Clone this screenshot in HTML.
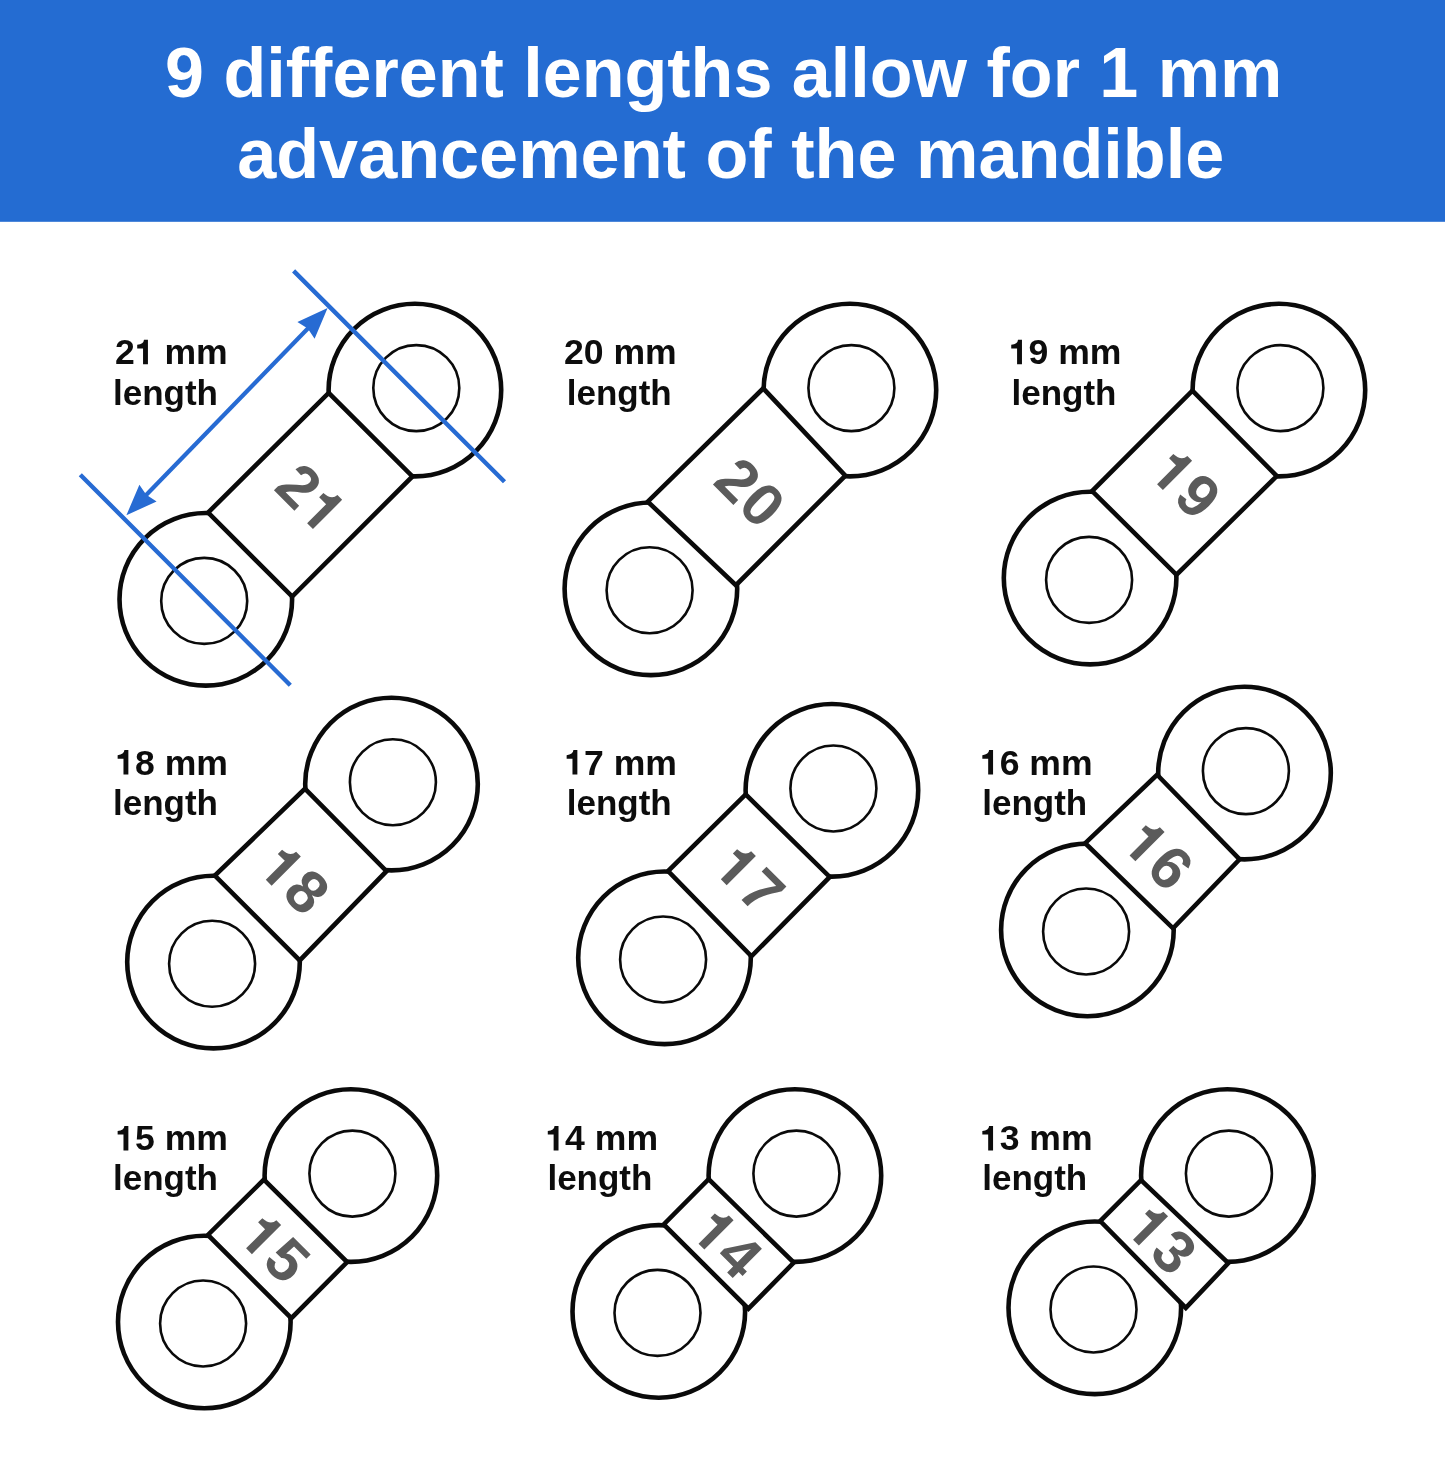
<!DOCTYPE html>
<html><head><meta charset="utf-8">
<style>
html,body{margin:0;padding:0;background:#fff;}
body{width:1445px;height:1474px;overflow:hidden;position:relative;font-family:"Liberation Sans",sans-serif;}
svg{position:absolute;left:0;top:0;display:block;}
.hdr{font-family:"Liberation Sans",sans-serif;font-weight:bold;font-size:70px;fill:#fff;}
text{font-kerning:none;white-space:pre;}
.lab{font-family:"Liberation Sans",sans-serif;font-weight:bold;font-size:35px;fill:#0d0d0d;}
.lab1{font-family:"Liberation Sans",sans-serif;font-weight:bold;font-size:35.6px;fill:#0d0d0d;}
.labp,.lab1p{fill:#0d0d0d;}
.nump{fill:#5b5b5b;}
.num{font-family:"Liberation Sans",sans-serif;font-weight:bold;font-size:60px;fill:#5b5b5b;}
</style></head>
<body>
<svg width="1445" height="1474" viewBox="0 0 1445 1474">
<rect x="0" y="0" width="1445" height="1474" fill="#fff"/>
<rect x="0" y="0" width="1445" height="221.8" fill="#246cd2"/>
<g opacity="0.999"><text class="hdr" x="723.75" y="97.2" text-anchor="middle" textLength="1117.3" lengthAdjust="spacingAndGlyphs">9 different lengths allow for 1 mm</text>
<text class="hdr" x="730.7" y="178.3" text-anchor="middle" textLength="987.1" lengthAdjust="spacingAndGlyphs">advancement of the mandible</text></g>
<!-- link 21 -->
<circle cx="414.90" cy="390.10" r="86.3" fill="#fff" stroke="#0a0a0a" stroke-width="4.6"/>
<circle cx="205.80" cy="599.30" r="86.3" fill="#fff" stroke="#0a0a0a" stroke-width="4.6"/>
<path d="M328.67 392.89L412.45 476.38L292.21 596.60L208.14 512.56Z" fill="#fff" stroke="#0a0a0a" stroke-width="4.6" stroke-linejoin="miter"/>
<circle cx="416.30" cy="388.10" r="43.0" fill="none" stroke="#0a0a0a" stroke-width="2.6"/>
<circle cx="204.20" cy="600.90" r="43.0" fill="none" stroke="#0a0a0a" stroke-width="2.6"/>
<g transform="translate(311.27 498.21) rotate(45)"><text class="num" x="-34.12" y="20.60">2</text><path class="nump" transform="translate(0.75 20.60) scale(0.02930 -0.02930)" d="M478 0L478 916L142 916L142 1120Q511 1137 531 1409L759 1409L759 0Z"/></g>
<!-- link 20 -->
<circle cx="849.90" cy="390.10" r="86.3" fill="#fff" stroke="#0a0a0a" stroke-width="4.6"/>
<circle cx="650.90" cy="588.80" r="86.3" fill="#fff" stroke="#0a0a0a" stroke-width="4.6"/>
<path d="M763.26 388.41L845.38 475.66L735.92 585.23L647.76 501.64Z" fill="#fff" stroke="#0a0a0a" stroke-width="4.6" stroke-linejoin="miter"/>
<circle cx="851.40" cy="388.10" r="43.0" fill="none" stroke="#0a0a0a" stroke-width="2.6"/>
<circle cx="649.60" cy="590.20" r="43.0" fill="none" stroke="#0a0a0a" stroke-width="2.6"/>
<g transform="translate(750.08 492.43) rotate(45)"><text class="num" x="-34.12" y="20.60">2</text><text class="num" x="0.75" y="20.60">0</text></g>
<!-- link 19 -->
<circle cx="1278.90" cy="390.10" r="86.3" fill="#fff" stroke="#0a0a0a" stroke-width="4.6"/>
<circle cx="1090.10" cy="578.10" r="86.3" fill="#fff" stroke="#0a0a0a" stroke-width="4.6"/>
<path d="M1192.40 390.65L1276.80 476.03L1176.52 574.76L1092.15 491.06Z" fill="#fff" stroke="#0a0a0a" stroke-width="4.6" stroke-linejoin="miter"/>
<circle cx="1280.40" cy="388.10" r="43.0" fill="none" stroke="#0a0a0a" stroke-width="2.6"/>
<circle cx="1089.10" cy="579.90" r="43.0" fill="none" stroke="#0a0a0a" stroke-width="2.6"/>
<g transform="translate(1185.87 483.82) rotate(45)"><path class="nump" transform="translate(-34.12 20.60) scale(0.02930 -0.02930)" d="M478 0L478 916L142 916L142 1120Q511 1137 531 1409L759 1409L759 0Z"/><text class="num" x="0.75" y="20.60">9</text></g>
<!-- link 18 -->
<circle cx="391.50" cy="784.10" r="86.3" fill="#fff" stroke="#0a0a0a" stroke-width="4.6"/>
<circle cx="213.50" cy="962.10" r="86.3" fill="#fff" stroke="#0a0a0a" stroke-width="4.6"/>
<path d="M304.90 788.73L386.50 871.14L299.75 960.40L214.85 875.65Z" fill="#fff" stroke="#0a0a0a" stroke-width="4.6" stroke-linejoin="miter"/>
<circle cx="392.90" cy="782.30" r="43.0" fill="none" stroke="#0a0a0a" stroke-width="2.6"/>
<circle cx="212.10" cy="963.70" r="43.0" fill="none" stroke="#0a0a0a" stroke-width="2.6"/>
<g transform="translate(294.60 879.48) rotate(45)"><path class="nump" transform="translate(-34.12 20.60) scale(0.02930 -0.02930)" d="M478 0L478 916L142 916L142 1120Q511 1137 531 1409L759 1409L759 0Z"/><text class="num" x="0.75" y="20.60">8</text></g>
<!-- link 17 -->
<circle cx="831.90" cy="790.30" r="86.3" fill="#fff" stroke="#0a0a0a" stroke-width="4.6"/>
<circle cx="664.50" cy="957.80" r="86.3" fill="#fff" stroke="#0a0a0a" stroke-width="4.6"/>
<path d="M745.65 794.44L829.75 876.98L751.45 956.30L668.09 871.02Z" fill="#fff" stroke="#0a0a0a" stroke-width="4.6" stroke-linejoin="miter"/>
<circle cx="833.40" cy="788.50" r="43.0" fill="none" stroke="#0a0a0a" stroke-width="2.6"/>
<circle cx="663.10" cy="959.50" r="43.0" fill="none" stroke="#0a0a0a" stroke-width="2.6"/>
<g transform="translate(749.64 878.99) rotate(45)"><path class="nump" transform="translate(-34.12 20.60) scale(0.02930 -0.02930)" d="M478 0L478 916L142 916L142 1120Q511 1137 531 1409L759 1409L759 0Z"/><text class="num" x="0.75" y="20.60">7</text></g>
<!-- link 16 -->
<circle cx="1244.50" cy="773.10" r="86.3" fill="#fff" stroke="#0a0a0a" stroke-width="4.6"/>
<circle cx="1087.40" cy="929.90" r="86.3" fill="#fff" stroke="#0a0a0a" stroke-width="4.6"/>
<path d="M1157.11 774.74L1239.60 859.30L1173.05 928.34L1085.20 843.17Z" fill="#fff" stroke="#0a0a0a" stroke-width="4.6" stroke-linejoin="miter"/>
<circle cx="1245.90" cy="771.10" r="43.0" fill="none" stroke="#0a0a0a" stroke-width="2.6"/>
<circle cx="1086.10" cy="931.50" r="43.0" fill="none" stroke="#0a0a0a" stroke-width="2.6"/>
<g transform="translate(1158.34 855.09) rotate(45)"><path class="nump" transform="translate(-34.12 20.60) scale(0.02930 -0.02930)" d="M478 0L478 916L142 916L142 1120Q511 1137 531 1409L759 1409L759 0Z"/><text class="num" x="0.75" y="20.60">6</text></g>
<!-- link 15 -->
<circle cx="350.90" cy="1175.60" r="86.3" fill="#fff" stroke="#0a0a0a" stroke-width="4.6"/>
<circle cx="204.30" cy="1322.00" r="86.3" fill="#fff" stroke="#0a0a0a" stroke-width="4.6"/>
<path d="M263.89 1179.58L347.15 1262.01L291.36 1318.17L207.93 1234.93Z" fill="#fff" stroke="#0a0a0a" stroke-width="4.6" stroke-linejoin="miter"/>
<circle cx="352.40" cy="1173.60" r="43.0" fill="none" stroke="#0a0a0a" stroke-width="2.6"/>
<circle cx="203.10" cy="1323.50" r="43.0" fill="none" stroke="#0a0a0a" stroke-width="2.6"/>
<g transform="translate(274.88 1247.97) rotate(45)"><path class="nump" transform="translate(-34.12 20.60) scale(0.02930 -0.02930)" d="M478 0L478 916L142 916L142 1120Q511 1137 531 1409L759 1409L759 0Z"/><text class="num" x="0.75" y="20.60">5</text></g>
<!-- link 14 -->
<circle cx="794.90" cy="1175.60" r="86.3" fill="#fff" stroke="#0a0a0a" stroke-width="4.6"/>
<circle cx="658.80" cy="1311.40" r="86.3" fill="#fff" stroke="#0a0a0a" stroke-width="4.6"/>
<path d="M708.63 1179.15L793.80 1262.59L748.40 1308.70L663.73 1224.42Z" fill="#fff" stroke="#0a0a0a" stroke-width="4.6" stroke-linejoin="miter"/>
<circle cx="796.40" cy="1173.60" r="43.0" fill="none" stroke="#0a0a0a" stroke-width="2.6"/>
<circle cx="657.50" cy="1312.90" r="43.0" fill="none" stroke="#0a0a0a" stroke-width="2.6"/>
<g transform="translate(727.34 1243.32) rotate(45)"><path class="nump" transform="translate(-34.12 20.60) scale(0.02930 -0.02930)" d="M478 0L478 916L142 916L142 1120Q511 1137 531 1409L759 1409L759 0Z"/><text class="num" x="0.75" y="20.60">4</text></g>
<!-- link 13 -->
<circle cx="1227.40" cy="1175.60" r="86.3" fill="#fff" stroke="#0a0a0a" stroke-width="4.6"/>
<circle cx="1094.80" cy="1307.80" r="86.3" fill="#fff" stroke="#0a0a0a" stroke-width="4.6"/>
<path d="M1141.00 1180.10L1228.30 1263.20L1185.80 1307.90L1100.24 1221.13Z" fill="#fff" stroke="#0a0a0a" stroke-width="4.6" stroke-linejoin="miter"/>
<circle cx="1228.90" cy="1173.60" r="43.0" fill="none" stroke="#0a0a0a" stroke-width="2.6"/>
<circle cx="1093.50" cy="1309.50" r="43.0" fill="none" stroke="#0a0a0a" stroke-width="2.6"/>
<g transform="translate(1161.83 1239.38) rotate(45)"><path class="nump" transform="translate(-34.12 20.60) scale(0.02930 -0.02930)" d="M478 0L478 916L142 916L142 1120Q511 1137 531 1409L759 1409L759 0Z"/><text class="num" x="0.75" y="20.60">3</text></g>
<g opacity="0.999"><text class="lab1" x="114.94" y="364.30">2</text><path class="lab1p" transform="translate(134.74 364.30) scale(0.01738 -0.01738)" d="M478 0L478 916L142 916L142 1120Q511 1137 531 1409L759 1409L759 0Z"/><text class="lab1" x="154.54" y="364.30"> mm</text>
<text class="lab" x="112.97" y="404.50">length</text>
<text class="lab1" x="564.04" y="364.30">20 mm</text>
<text class="lab" x="566.77" y="404.50">length</text>
<path class="lab1p" transform="translate(1008.77 364.30) scale(0.01738 -0.01738)" d="M478 0L478 916L142 916L142 1120Q511 1137 531 1409L759 1409L759 0Z"/><text class="lab1" x="1028.57" y="364.30">9 mm</text>
<text class="lab" x="1011.47" y="404.50">length</text>
<path class="lab1p" transform="translate(115.17 774.60) scale(0.01738 -0.01738)" d="M478 0L478 916L142 916L142 1120Q511 1137 531 1409L759 1409L759 0Z"/><text class="lab1" x="134.97" y="774.60">8 mm</text>
<text class="lab" x="113.02" y="814.70">length</text>
<path class="lab1p" transform="translate(564.17 774.60) scale(0.01738 -0.01738)" d="M478 0L478 916L142 916L142 1120Q511 1137 531 1409L759 1409L759 0Z"/><text class="lab1" x="583.97" y="774.60">7 mm</text>
<text class="lab" x="566.77" y="814.70">length</text>
<path class="lab1p" transform="translate(979.87 774.60) scale(0.01738 -0.01738)" d="M478 0L478 916L142 916L142 1120Q511 1137 531 1409L759 1409L759 0Z"/><text class="lab1" x="999.67" y="774.60">6 mm</text>
<text class="lab" x="982.22" y="814.70">length</text>
<path class="lab1p" transform="translate(115.17 1150.40) scale(0.01738 -0.01738)" d="M478 0L478 916L142 916L142 1120Q511 1137 531 1409L759 1409L759 0Z"/><text class="lab1" x="134.97" y="1150.40">5 mm</text>
<text class="lab" x="113.02" y="1189.70">length</text>
<path class="lab1p" transform="translate(545.32 1150.40) scale(0.01738 -0.01738)" d="M478 0L478 916L142 916L142 1120Q511 1137 531 1409L759 1409L759 0Z"/><text class="lab1" x="565.12" y="1150.40">4 mm</text>
<text class="lab" x="547.42" y="1189.70">length</text>
<path class="lab1p" transform="translate(979.87 1150.40) scale(0.01738 -0.01738)" d="M478 0L478 916L142 916L142 1120Q511 1137 531 1409L759 1409L759 0Z"/><text class="lab1" x="999.67" y="1150.40">3 mm</text>
<text class="lab" x="982.22" y="1189.70">length</text></g>
<path d="M293.6 270.9L504.5 481.8M80.3 474.8L290.3 685.3" stroke="#276bd3" stroke-width="4.4" fill="none"/>
<path d="M313.67 322.45L140.33 500.95" stroke="#276bd3" stroke-width="4.2" fill="none"/>
<path d="M327.60 308.10L314.61 338.70L307.75 328.55L297.40 321.98Z" fill="#276bd3"/>
<path d="M126.40 515.30L139.39 484.70L146.25 494.85L156.60 501.42Z" fill="#276bd3"/>
</svg>
</body></html>
